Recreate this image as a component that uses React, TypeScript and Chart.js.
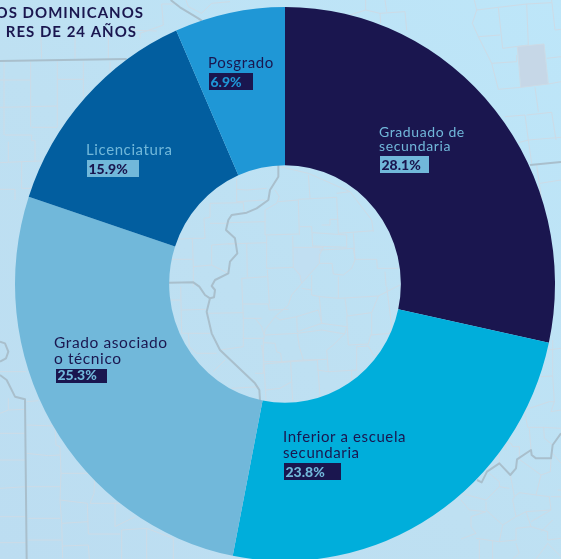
import React, { useEffect, useRef } from "react";
import { Chart, registerables } from "chart.js";

Chart.register(...registerables);

const categories = ["Graduado de secundaria", "Inferior a escuela secundaria", "Grado asociado o técnico", "Licenciatura", "Posgrado"];
// size of each slice
const sliceSizes = [28.4, 24.7, 27.0, 13.3, 6.6];
// percentage printed on each slice
const printedValues = ["28.1%", "23.8%", "25.3%", "15.9%", "6.9%"];
const sliceColors = ["#1a164f", "#00aedb", "#71b8da", "#025e9f", "#1f97d6"];
const titleLines = ["OS DOMINICANOS", "RES DE 24 AÑOS"];

const NAVY = "#1a164f";
const FONT = "Lato";
const SCALE_Y = 277 / 270;

// label layout, index-matched to categories
const labelLayout = [
  { lines: ["Graduado de", "secundaria"], x: 379, ys: [137, 151], size: 14, color: "#71b8da", chip: [380, 156, 49, 17], chipColor: "#71b8da", valueColor: NAVY },
  { lines: ["Inferior a escuela", "secundaria"], x: 283, ys: [442, 458], size: 15, color: NAVY, chip: [284, 463, 57, 17], chipColor: NAVY, valueColor: "#71b8da" },
  { lines: ["Grado asociado", "o técnico"], x: 54, ys: [348, 364], size: 15.5, color: NAVY, chip: [56, 369, 51, 14], chipColor: NAVY, valueColor: "#71b8da" },
  { lines: ["Licenciatura"], x: 86, ys: [155], size: 15, color: "#71b8da", chip: [87, 160, 52, 17], chipColor: "#71b8da", valueColor: NAVY },
  { lines: ["Posgrado"], x: 208, ys: [68], size: 15, color: NAVY, chip: [209, 73, 44, 17], chipColor: NAVY, valueColor: "#1f97d6" },
];

// decorative county map: [originX, originY, divisor, thick polylines, thin polylines]
type Poly = number[];
const mapParts: [number, number, number, Poly[], Poly[]][] = [
  // central hole
  [160, 160, 3,
    [
      [355,15,355,50,330,90,325,120,290,145,260,158,215,165,205,180,198,210,225,235,232,280,210,305,205,340,165,360,155,378,165,390,162,412,150,415,140,455,155,520,180,570,285,670,298,690,300,720],
      [27,368,100,367,118,380,135,405,150,415],
    ],
    [
      [345,90,358,110,350,130,315,150,315,225,415,222],[355,125,415,120,418,225],[415,118,530,112,535,220],[445,45,450,115],[360,20,445,40,570,95],
      [530,100,570,95,635,180,640,215],[535,220,640,212],[320,228,320,325,400,322,420,345,425,370],[398,228,400,322],[418,200,455,200,458,258,560,262,560,225,458,218],
      [400,262,490,262,478,285,478,310,425,370,395,405,385,435,345,470,315,510,310,545],[485,195,510,195,510,178,535,178],[478,270,580,265,585,300,575,325,550,345,520,342,516,310,478,310],
      [580,220,585,298,650,298,652,325,715,325],[535,350,535,415,480,410,455,405,455,345],[535,415,655,408,720,375],[675,335,678,378],[425,385,455,390],
      [478,410,485,490,560,500,555,520,520,555,500,570,505,635,590,630,590,560,625,558,640,585,655,585],[555,415,562,468,635,458,655,408],[560,468,565,555,625,552,632,525,690,520],[635,460,635,525],[680,380,695,500,690,520],
      [345,470,360,480,410,470,475,450,485,490],[410,470,412,515,485,490],[315,525,412,520,418,560,430,600,500,598],[412,520,485,510,555,522],[310,548,345,550,350,575,362,580,365,605,430,600],[305,555,312,605,365,605],
      [312,612,318,725],[312,612,392,605,398,725],[392,605,472,600,480,710],[472,630,505,635],[318,690,360,685,395,665],[575,630,575,670],
      [245,355,320,350],[245,355,248,432,325,432,328,450,385,448],[322,330,328,432],[248,432,250,475,285,475,305,500,312,525],[285,475,305,475],[250,475,250,535,310,535],[145,460,250,458],[250,535,250,560,180,570],[310,535,310,640,285,640],
      [62,380,65,520,150,520],[65,450,140,448],[85,520,88,560,110,580,170,580],[195,600,160,635],[215,685,298,680],[100,380,100,320,155,315,205,340],[97,235,100,320],[155,255,155,315],[97,235,45,238],[30,298,97,298],[155,255,225,250],[260,250,262,350],[320,248,205,252],
      [135,235,132,175,150,172,150,130,250,128,252,155],[150,190,205,190],[205,188,315,185],[230,55,230,125,315,120],[230,88,260,90,320,85],[32,420,62,420],[97,235,135,235],
    ]],
  // top-right
  [350, 0, 3,
    [[540,495,633,486]],
    [
      [373,0,380,30,367,70,385,110,425,190,445,268],[380,30,445,22,530,12,605,8],[445,22,458,145,535,135],[530,12,535,135],[385,110,450,105],
      [502,140,512,262,595,252,582,132,502,140],[425,190,500,185,500,165],[445,268,512,262],[595,252,633,245],[590,175,633,170],[555,262,565,335],
      [465,350,525,345,535,420],[530,345,605,337,618,420],[505,428,535,420,633,412],[535,420,545,490],[560,495,575,600],[570,550,633,540],[605,0,615,90,633,88],
      [47,0,47,30],[0,45,47,30,90,40,165,35,170,90],[105,0,110,35],[90,40,92,70],
    ]],
  // top-left
  [0, 30, 3,
    [[0,93,380,87]],
    [
      [0,150,90,150],[12,95,12,315],[0,232,172,228],[92,95,92,290],[172,95,172,290],[172,148,250,148],[250,95,250,200],[15,315,95,315,95,332,105,332,105,395],[95,292,172,292],
      [25,335,25,395],[0,398,65,395,120,393],[65,395,65,475,100,475],[0,478,45,478,45,510],[122,0,125,85],[225,0,225,85],[330,95,330,125],[325,0,325,85],
    ]],
  // top centre
  [130, 0, 3,
    [[122,0,150,22,205,55,215,62]],
    [[95,12,130,12],[95,12,100,75,30,100,30,115],[168,0,175,20,215,40,245,10,300,5],[0,90,80,93]],
  ],
  // bottom-left
  [0, 330, 3,
    [[0,135,20,150,45,200,75,208,80,687],[0,35,15,40,25,65,18,85,0,95]],
    [
      [0,125,78,125],[25,205,25,240],[0,250,25,240,78,238],[80,285,165,288,168,345,180,350,183,430,180,510,185,580,188,685],[0,310,78,310],[0,390,78,390],[80,370,145,377,180,375],
      [183,430,285,430,282,490,270,520,360,520],[0,475,78,470,180,470],[0,560,78,560],[85,565,180,565],[180,510,262,520,265,612,360,612],[85,630,185,630],[185,580,265,575],[0,638,78,638],[188,648,265,645,268,687],[80,215,115,212],
    ]],
  // bottom-left, nearer centre
  [0, 320, 3,
    [],
    [[365,630,440,625,520,655],[365,630,365,717],[345,548,345,620,405,590],[440,625,440,717],[520,655,520,717]],
  ],
  // bottom-right
  [461, 340, 3,
    [[48,420,62,427,78,395,115,370,148,405,165,385,168,358,210,330,212,345,225,355,270,355,275,315,300,280]],
    [
      [262,30,300,25],[240,110,275,108,280,185,265,185,190,210,200,262,248,262,250,295,275,315],[205,265,210,330],[248,262,300,265],[280,185,270,215,300,210],[275,108,275,0],[300,370,275,340],
      [135,330,130,305,150,310,155,320,175,320,175,350],[115,340,115,370],[175,358,240,405,268,395,270,355],[240,405,225,465],[148,405,160,470,155,480,165,530,195,515,270,510],[160,470,175,458,225,465,265,470,270,510],
      [0,460,75,480,115,440,145,445],[85,400,115,425,115,440],[0,480,25,510,75,515],[75,485,75,510,125,555,165,530],[75,515,30,530,30,560,45,580,0,597],[45,595,115,605],[125,555,115,605,165,600,165,565,210,560,260,575],
      [195,515,210,560],[210,545,270,510],[240,575,275,540],[260,575,260,600,300,595],[55,600,55,657],[95,600,95,657],[165,610,175,640,155,657],[225,657,260,610,300,650],[290,450,300,450],[270,470,300,470],
    ]],
];

const backdrop = {
  id: "backdrop",
  beforeDraw(chart: Chart) {
    const { ctx, width, height } = chart;
    ctx.save();
    const g = ctx.createLinearGradient(width, 0, 0, height);
    g.addColorStop(0, "#bde6f9");
    g.addColorStop(0.55, "#bee0f2");
    g.addColorStop(1, "#bcddf1");
    ctx.fillStyle = g;
    ctx.fillRect(0, 0, width, height);
    ctx.fillStyle = "#c6d7e7";
    ctx.beginPath();
    ctx.moveTo(517.5, 46.5); ctx.lineTo(544, 44); ctx.lineTo(548, 84); ctx.lineTo(521, 87.5);
    ctx.closePath(); ctx.fill();
    ctx.fillStyle = "#c1dff2";
    ctx.beginPath();
    ctx.moveTo(293.5, 247.5); ctx.lineTo(323, 247.5); ctx.lineTo(319, 263); ctx.lineTo(302, 283); ctx.lineTo(293.5, 267);
    ctx.closePath(); ctx.fill();
    ctx.lineJoin = "round";
    const stroke = (o: [number, number, number], p: Poly) => {
      ctx.beginPath();
      for (let i = 0; i < p.length; i += 2) {
        const x = o[0] + p[i] / o[2];
        const y = o[1] + p[i + 1] / o[2];
        if (i === 0) ctx.moveTo(x, y); else ctx.lineTo(x, y);
      }
      ctx.stroke();
    };
    for (const [ox, oy, d, thick, thin] of mapParts) {
      ctx.strokeStyle = "#cddbe6";
      ctx.lineWidth = 1;
      thin.forEach((p) => stroke([ox, oy, d], p));
      ctx.strokeStyle = "#a9bfcc";
      ctx.lineWidth = 2;
      thick.forEach((p) => stroke([ox, oy, d], p));
    }
    ctx.restore();
  },
  beforeDatasetsDraw(chart: Chart) {
    const { ctx, chartArea } = chart;
    const cy = (chartArea.top + chartArea.bottom) / 2;
    ctx.save();
    ctx.translate(0, cy);
    ctx.scale(1, SCALE_Y);
    ctx.translate(0, -cy);
  },
  afterDatasetsDraw(chart: Chart) {
    chart.ctx.restore();
  },
  afterDraw(chart: Chart) {
    const { ctx } = chart;
    ctx.save();
    ctx.textBaseline = "alphabetic";
    ctx.textAlign = "left";
    const c = ctx as CanvasRenderingContext2D & { letterSpacing: string };
    labelLayout.forEach((l, i) => {
      c.letterSpacing = "0.6px";
      ctx.font = `400 ${l.size}px ${FONT}`;
      ctx.fillStyle = l.color;
      l.lines.forEach((t, k) => ctx.fillText(t, l.x, l.ys[k]));
      c.letterSpacing = "0px";
      const [x, y, w, h] = l.chip;
      ctx.fillStyle = l.chipColor;
      ctx.fillRect(x, y, w, h);
      ctx.font = `900 14px ${FONT}`;
      ctx.fillStyle = l.valueColor;
      ctx.fillText(printedValues[i], x + 1.5, y + h - 3);
    });
    c.letterSpacing = "1px";
    ctx.font = `700 15px ${FONT}`;
    ctx.fillStyle = NAVY;
    ctx.textAlign = "right";
    ctx.fillText(titleLines[0], 144, 18);
    ctx.fillText(titleLines[1], 137, 37);
    ctx.restore();
  },
};

export default function App() {
  const ref = useRef<HTMLCanvasElement>(null);
  useEffect(() => {
    const chart = new Chart(ref.current!, {
      type: "doughnut",
      data: {
        labels: categories,
        datasets: [{ data: sliceSizes, backgroundColor: sliceColors, borderWidth: 0 }],
      },
      options: {
        responsive: false,
        animation: false,
        cutout: "42.9%",
        layout: { padding: { left: 15, right: 6, top: 14, bottom: 5 } },
        plugins: { legend: { display: false }, tooltip: { enabled: false }, title: { display: false } },
      },
      plugins: [backdrop],
    });
    return () => chart.destroy();
  }, []);
  return (
    <div style={{ position: "fixed", left: 0, top: 0, width: 561, height: 559, overflow: "hidden" }}>
      <canvas ref={ref} width={561} height={559} style={{ display: "block" }} />
    </div>
  );
}
